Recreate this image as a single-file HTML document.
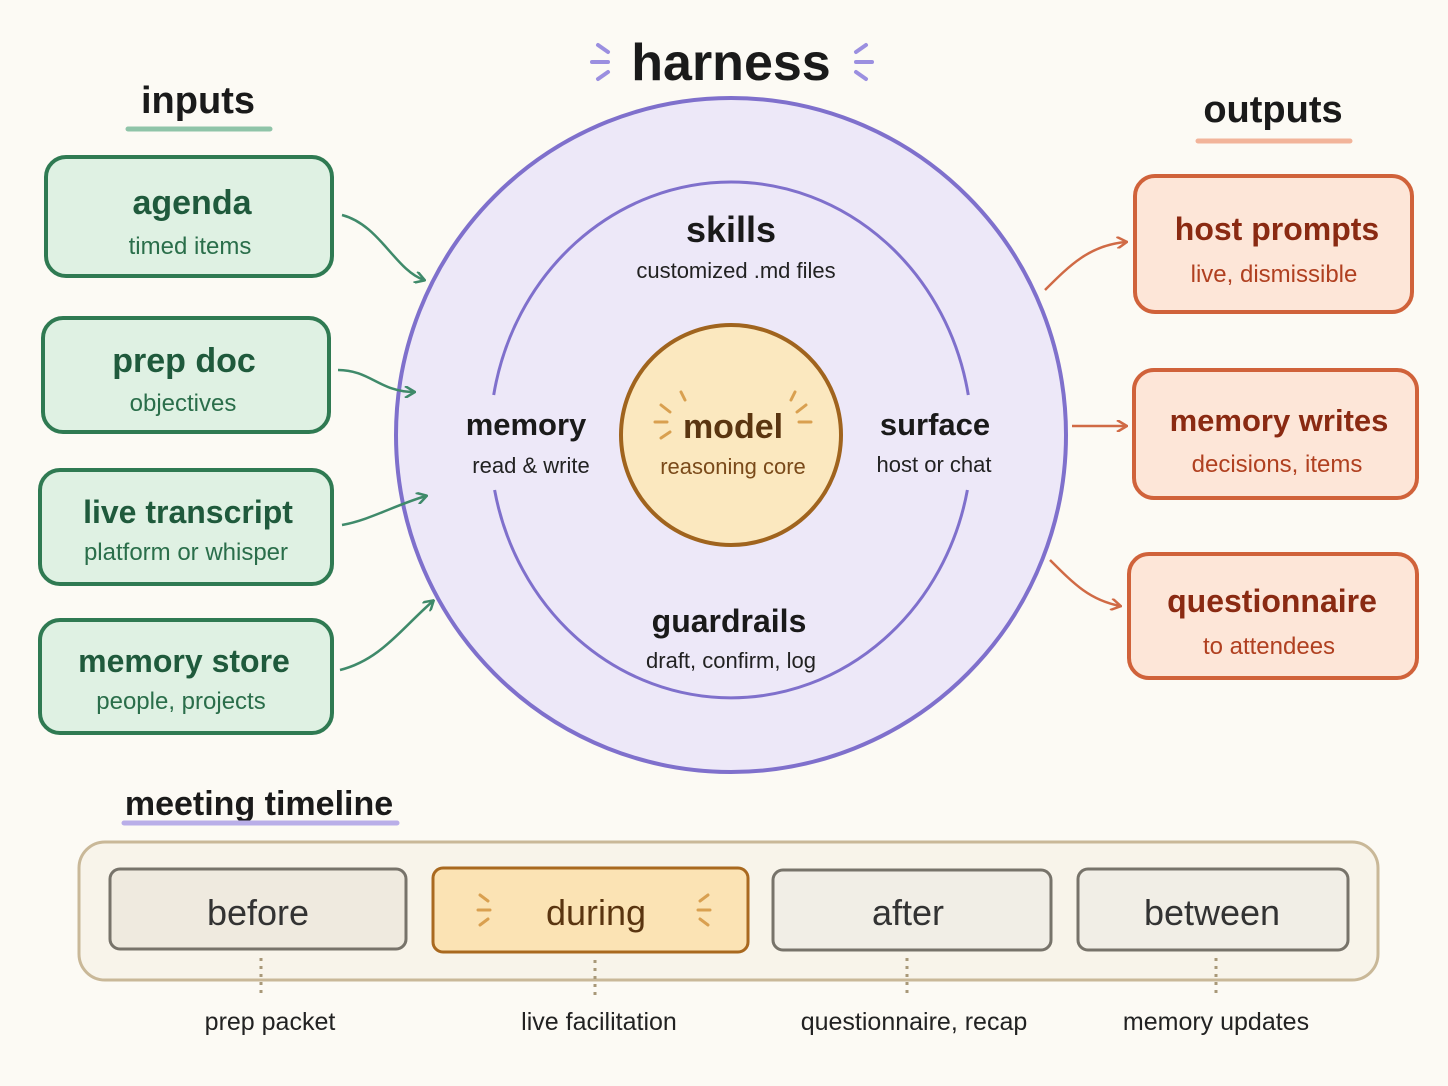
<!DOCTYPE html>
<html><head><meta charset="utf-8"><style>
body{margin:0;background:#fcfaf4;}
svg{display:block}
text{font-family:"Liberation Sans","DejaVu Sans",sans-serif;text-anchor:middle}
</style></head><body>
<svg width="1448" height="1086" viewBox="0 0 1448 1086">
<defs>
<marker id="ag" markerWidth="12" markerHeight="12" refX="10" refY="6" orient="auto" markerUnits="userSpaceOnUse"><path d="M1,0 L11,6 L1,12" fill="none" stroke="#3f8a6a" stroke-width="2.5"/></marker>
<marker id="ao" markerWidth="12" markerHeight="12" refX="10" refY="6" orient="auto" markerUnits="userSpaceOnUse"><path d="M1,0 L11,6 L1,12" fill="none" stroke="#d06a45" stroke-width="2.5"/></marker>
</defs>
<rect width="1448" height="1086" fill="#fcfaf4"/>
<text x="731" y="80" font-size="52" font-weight="bold" fill="#1a1a1a">harness</text>
<g stroke="#9b8fe0" stroke-width="4" stroke-linecap="round">
<line x1="598" y1="45" x2="608" y2="52"/><line x1="592" y1="62" x2="608" y2="62"/><line x1="598" y1="79" x2="608" y2="72"/>
<line x1="866" y1="45" x2="856" y2="52"/><line x1="872" y1="62" x2="856" y2="62"/><line x1="866" y1="79" x2="856" y2="72"/>
</g>
<ellipse cx="731" cy="435" rx="335" ry="337" fill="#ede8f8" stroke="#7f70cc" stroke-width="4"/>
<g fill="none" stroke="#7f70cc" stroke-width="3">
<path d="M493.7,395 A241,258 0 0 1 968.3,395"/>
<path d="M494.6,490 A241,258 0 0 0 967.4,490"/>
</g>
<circle cx="731" cy="435" r="110" fill="#fbe8bf" stroke="#a0641e" stroke-width="4"/>
<text x="731" y="242" font-size="36" font-weight="bold" fill="#1a1a1a">skills</text>
<text x="736" y="278" font-size="22" fill="#222">customized .md files</text>
<text x="526" y="435" font-size="31" font-weight="bold" fill="#1a1a1a">memory</text>
<text x="531" y="473" font-size="22" fill="#222">read &amp; write</text>
<text x="935" y="435" font-size="31" font-weight="bold" fill="#1a1a1a">surface</text>
<text x="934" y="472" font-size="22" fill="#222">host or chat</text>
<text x="729" y="632" font-size="32" font-weight="bold" fill="#1a1a1a">guardrails</text>
<text x="731" y="668" font-size="22" fill="#222">draft, confirm, log</text>
<text x="733" y="438" font-size="34" font-weight="bold" fill="#5a3510">model</text>
<text x="733" y="474" font-size="22" fill="#7a4a1a">reasoning core</text>
<g stroke="#d9a050" stroke-width="3" stroke-linecap="round">
<line x1="655" y1="422" x2="667" y2="422"/><line x1="661" y1="405" x2="670" y2="412"/><line x1="661" y1="438" x2="670" y2="432"/><line x1="681" y1="392" x2="685" y2="400"/>
<line x1="799" y1="422" x2="811" y2="422"/><line x1="797" y1="412" x2="806" y2="405"/><line x1="791" y1="400" x2="795" y2="392"/>
</g>
<text x="198" y="113" font-size="38" font-weight="bold" fill="#1a1a1a">inputs</text>
<line x1="128" y1="129" x2="270" y2="129" stroke="#8fc4a8" stroke-width="5" stroke-linecap="round"/>
<g fill="#dff1e3" stroke="#2f7a52" stroke-width="4">
<rect x="46" y="157" width="286" height="119" rx="20"/>
<rect x="43" y="318" width="286" height="114" rx="20"/>
<rect x="40" y="470" width="292" height="114" rx="20"/>
<rect x="40" y="620" width="292" height="113" rx="20"/>
</g>
<g fill="#1f5a3c" font-weight="bold" font-size="34">
<text x="192" y="214">agenda</text><text x="184" y="372">prep doc</text><text x="188" y="523" font-size="32">live transcript</text><text x="184" y="672" font-size="32">memory store</text>
</g>
<g fill="#2a6e4a" font-size="24">
<text x="190" y="254">timed items</text><text x="183" y="411">objectives</text><text x="186" y="560">platform or whisper</text><text x="181" y="709">people, projects</text>
</g>
<g fill="none" stroke="#3f8a6a" stroke-width="2.5">
<path d="M342,215 C380,225 395,270 424,280" marker-end="url(#ag)"/>
<path d="M338,370 C370,370 380,392 414,392" marker-end="url(#ag)"/>
<path d="M342,525 C370,520 395,505 426,496" marker-end="url(#ag)"/>
<path d="M340,670 C380,660 400,630 433,601" marker-end="url(#ag)"/>
</g>
<text x="1273" y="122" font-size="38" font-weight="bold" fill="#1a1a1a">outputs</text>
<line x1="1198" y1="141" x2="1350" y2="141" stroke="#f2b49a" stroke-width="5" stroke-linecap="round"/>
<g fill="#fde6d8" stroke="#d0623a" stroke-width="4">
<rect x="1135" y="176" width="277" height="136" rx="20"/>
<rect x="1134" y="370" width="283" height="128" rx="20"/>
<rect x="1129" y="554" width="288" height="124" rx="20"/>
</g>
<g fill="#8a2a12" font-weight="bold" font-size="32">
<text x="1277" y="240">host prompts</text><text x="1279" y="431" font-size="31">memory writes</text><text x="1272" y="612">questionnaire</text>
</g>
<g fill="#b04020" font-size="24">
<text x="1274" y="282">live, dismissible</text><text x="1277" y="472">decisions, items</text><text x="1269" y="654">to attendees</text>
</g>
<g fill="none" stroke="#d06a45" stroke-width="2.5">
<path d="M1045,290 C1070,265 1090,245 1126,242" marker-end="url(#ao)"/>
<path d="M1072,426 L1126,426" marker-end="url(#ao)"/>
<path d="M1050,560 C1075,585 1090,600 1120,606" marker-end="url(#ao)"/>
</g>
<text x="259" y="815" font-size="34" font-weight="bold" fill="#1a1a1a">meeting timeline</text>
<line x1="124" y1="823" x2="397" y2="823" stroke="#b9aee8" stroke-width="5" stroke-linecap="round"/>
<rect x="79" y="842" width="1299" height="138" rx="26" fill="#f8f4ea" stroke="#c9b898" stroke-width="3"/>
<g stroke-width="3">
<rect x="110" y="869" width="296" height="80" rx="10" fill="#efeadf" stroke="#77736a"/>
<rect x="433" y="868" width="315" height="84" rx="10" fill="#fbe3b4" stroke="#a9691f"/>
<rect x="773" y="870" width="278" height="80" rx="10" fill="#f1eee6" stroke="#77736a"/>
<rect x="1078" y="869" width="270" height="81" rx="10" fill="#f1eee6" stroke="#77736a"/>
</g>
<g font-size="36" fill="#333">
<text x="258" y="925">before</text><text x="596" y="925" fill="#5a3510">during</text><text x="908" y="925">after</text><text x="1212" y="925">between</text>
</g>
<g stroke="#d9a050" stroke-width="3" stroke-linecap="round">
<line x1="478" y1="910" x2="490" y2="910"/><line x1="480" y1="895" x2="488" y2="901"/><line x1="480" y1="925" x2="488" y2="919"/>
<line x1="698" y1="910" x2="710" y2="910"/><line x1="700" y1="901" x2="708" y2="895"/><line x1="700" y1="919" x2="708" y2="925"/>
</g>
<g stroke="#a89878" stroke-width="3" stroke-dasharray="3 5">
<line x1="261" y1="958" x2="261" y2="995"/><line x1="595" y1="960" x2="595" y2="995"/><line x1="907" y1="958" x2="907" y2="995"/><line x1="1216" y1="958" x2="1216" y2="995"/>
</g>
<g font-size="25" fill="#222">
<text x="270" y="1030">prep packet</text><text x="599" y="1030">live facilitation</text><text x="914" y="1030">questionnaire, recap</text><text x="1216" y="1030">memory updates</text>
</g>
</svg>
</body></html>
